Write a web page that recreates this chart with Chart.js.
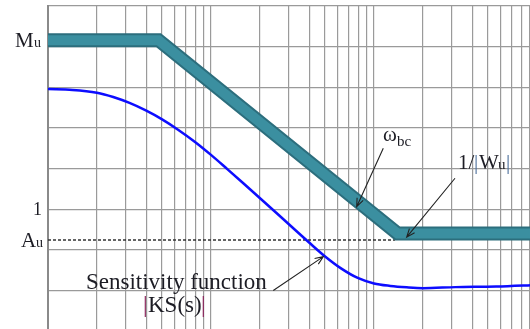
<!DOCTYPE html>
<html>
<head>
<meta charset="utf-8">
<script src="https://cdn.jsdelivr.net/npm/chart.js@4.4.1/dist/chart.umd.min.js"></script>
<style>
  html, body { margin: 0; padding: 0; overflow: hidden; background: #fff; }
  #wrap { position: absolute; left: 0; top: 0; width: 545px; height: 340px; }
</style>
</head>
<body>
<div id="wrap"><canvas id="kschart" width="545" height="340"></canvas></div>
<script>
// frequency (rad/s, log axis) and magnitudes in dB
const freqKS = [1, 1.413, 1.995, 2.512, 3.162, 3.981, 5.012, 6.31, 7.943, 10, 12.59, 15.85, 25.12, 39.81, 50.12, 63.1, 79.43, 100, 125.9, 158.5, 199.5, 316.2, 562.3, 1000];
const magKS  = [59.1, 58.7, 57.3, 55.2, 52.3, 48.6, 44.2, 39.0, 33.2, 26.7, 19.7, 12.6, -1.8, -16.3, -23.3, -29.3, -33.9, -36.6, -37.8, -38.5, -38.9, -38.4, -38.1, -37.3];

const freqWu = [1, 4.76, 139.4, 1000];
const magWu  = [83.2, 83.2, -12.0, -12.0];

const Au = -15.2;
const freqAu = [1, 134.6];

const yGrid = [-60, -40, -20, 0, 20, 40, 60, 80, 100];
const xDecades = [1, 10, 100];

// annotations, in data coords [freq, dB]
const arrows = [
  { from: [114, 30.0], to: [78.3, 1.2] },
  { from: [314, 15.2], to: [158.7, -13.8] },
  { from: [24.1, -40.1], to: [48.9, -23.4] }
];

const serif = '"Liberation Serif", "Times New Roman", serif';
const ink = '#1c1c24';

function drawRuns(ctx, x0, y0, runs, alignRight) {
  let w = 0;
  runs.forEach(r => { ctx.font = r.font; w += ctx.measureText(r.text).width; });
  let xx = Math.round(alignRight ? x0 - w : x0);
  runs.forEach(r => {
    ctx.font = r.font;
    ctx.fillStyle = r.color || ink;
    ctx.fillText(r.text, Math.round(xx), Math.round(y0 + (r.dy || 0)));
    xx += ctx.measureText(r.text).width;
  });
}

function arrow(ctx, x1, y1, x2, y2) {
  const a = Math.atan2(y2 - y1, x2 - x1);
  const len = 9, spread = 0.38;
  ctx.beginPath();
  ctx.moveTo(x1, y1);
  ctx.lineTo(x2, y2);
  ctx.moveTo(x2 - len * Math.cos(a - spread), y2 - len * Math.sin(a - spread));
  ctx.lineTo(x2, y2);
  ctx.lineTo(x2 - len * Math.cos(a + spread), y2 - len * Math.sin(a + spread));
  ctx.stroke();
}

const annotate = {
  id: 'annotate',
  afterDatasetsDraw(chart) {
    const { ctx, scales: { x, y } } = chart;
    ctx.save();
    ctx.textBaseline = 'alphabetic';
    ctx.textAlign = 'left';

    // left labels
    drawRuns(ctx, 41, y.getPixelForValue(magWu[0]) + 7, [
      { text: 'M', font: '21px ' + serif },
      { text: 'u', font: '14px ' + serif }
    ], true);
    drawRuns(ctx, 42, y.getPixelForValue(0) + 6, [
      { text: '1', font: '18px ' + serif }
    ], true);
    drawRuns(ctx, 43, y.getPixelForValue(Au) + 7, [
      { text: 'A', font: '21px ' + serif },
      { text: 'u', font: '14px ' + serif }
    ], true);

    // curve labels
    drawRuns(ctx, x.getPixelForValue(113.5), y.getPixelForValue(33.6), [
      { text: 'ω', font: '21px ' + serif },
      { text: 'bc', font: '15px ' + serif, dy: 5 }
    ]);
    drawRuns(ctx, x.getPixelForValue(327), y.getPixelForValue(19.6), [
      { text: '1/', font: '21px ' + serif },
      { text: '|', font: '21px ' + serif, color: '#4a6e9a' },
      { text: 'W', font: '21px ' + serif },
      { text: 'u', font: '15px ' + serif },
      { text: '|', font: '21px ' + serif, color: '#4a6e9a' }
    ]);
    drawRuns(ctx, x.getPixelForValue(1.71), y.getPixelForValue(-39.3), [
      { text: 'Sensitivity function', font: '23px ' + serif }
    ]);
    drawRuns(ctx, x.getPixelForValue(3.83), y.getPixelForValue(-50.4), [
      { text: '|', font: '23px ' + serif, color: '#8a2058' },
      { text: 'KS(s)', font: '23px ' + serif },
      { text: '|', font: '23px ' + serif, color: '#8a2058' }
    ]);

    // arrows
    ctx.strokeStyle = '#222';
    ctx.lineWidth = 1.1;
    arrows.forEach(a => {
      arrow(ctx,
        x.getPixelForValue(a.from[0]), y.getPixelForValue(a.from[1]),
        x.getPixelForValue(a.to[0]), y.getPixelForValue(a.to[1]));
    });
    ctx.restore();
  }
};

const ctx = document.getElementById('kschart').getContext('2d');
new Chart(ctx, {
  type: 'line',
  data: {
    datasets: [
      {
        label: '1/|Wu| inner',
        data: freqWu.map((f, i) => ({ x: f, y: magWu[i] })),
        borderColor: '#3b8fa0',
        borderWidth: 10,
        borderJoinStyle: 'miter',
        borderCapStyle: 'butt',
        pointRadius: 0,
        tension: 0,
        order: 0
      },
      {
        label: '1/|Wu| outer',
        data: freqWu.map((f, i) => ({ x: f, y: magWu[i] })),
        borderColor: '#2c6e7d',
        borderWidth: 14,
        borderJoinStyle: 'miter',
        borderCapStyle: 'butt',
        pointRadius: 0,
        tension: 0,
        order: 1
      },
      {
        label: 'Au',
        data: freqAu.map(f => ({ x: f, y: Au })),
        borderColor: '#333',
        borderWidth: 1.3,
        borderDash: [3, 2],
        pointRadius: 0,
        order: 2
      },
      {
        label: '|KS(s)|',
        data: freqKS.map((f, i) => ({ x: f, y: magKS[i] })),
        borderColor: '#0d0dff',
        borderWidth: 2.5,
        cubicInterpolationMode: 'monotone',
        pointRadius: 0,
        order: 0
      }
    ]
  },
  options: {
    responsive: false,
    animation: false,
    events: [],
    layout: { padding: { left: 48, top: 6, right: 8, bottom: 9 } },
    plugins: {
      legend: { display: false },
      tooltip: { enabled: false }
    },
    scales: {
      x: {
        type: 'logarithmic',
        min: 1,
        max: 1000,
        afterBuildTicks: (scale) => {
          const t = [];
          xDecades.forEach(d => { for (let k = 1; k < 10; k++) t.push({ value: k * d }); });
          t.push({ value: 1000 });
          scale.ticks = t;
        },
        ticks: { display: false },
        grid: { color: '#9a9a9a', lineWidth: 1.2, drawTicks: false },
        border: { display: false }
      },
      y: {
        type: 'linear',
        min: -60,
        max: 100,
        afterBuildTicks: (scale) => { scale.ticks = yGrid.map(v => ({ value: v })); },
        ticks: { display: false },
        grid: { color: '#9a9a9a', lineWidth: 1.2, drawTicks: false },
        border: { display: true, color: '#8a8a8a', width: 2 }
      }
    }
  },
  plugins: [annotate]
});
</script>
</body>
</html>
